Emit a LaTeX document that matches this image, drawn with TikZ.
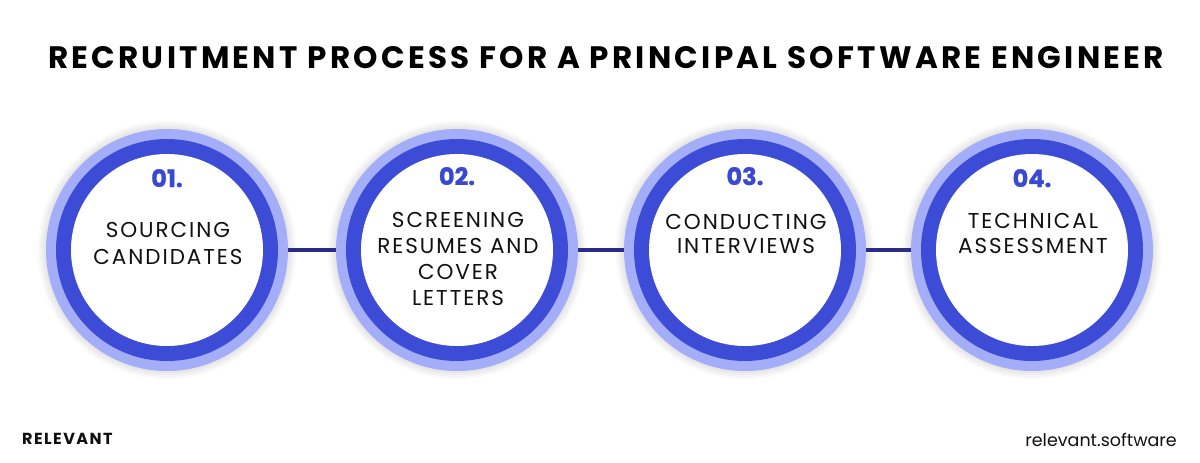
\documentclass[tikz,border=0pt]{standalone}
\usepackage{fontspec}
\setmainfont{Poppins}
\definecolor{ringlight}{HTML}{A3ADF8}
\definecolor{ringdark}{HTML}{3D4CD7}
\definecolor{numblue}{HTML}{3A49D2}
\definecolor{linkcol}{HTML}{2D2B8A}
\definecolor{inkblack}{HTML}{111111}
\newcommand{\steplead}[1]{\fontsize{21.5}{#1}\selectfont\addfontfeature{LetterSpace=9}}
\begin{document}
\begin{tikzpicture}[x=1pt,y=-1pt,
  outerring/.style={circle,fill=ringlight,minimum size=242pt,inner sep=0pt},
  darkring/.style={fill=ringdark},
  whitedisc/.style={fill=white},
  shadowdisc/.style={fill=black,opacity=0.022},
  numlabel/.style={anchor=base,text=numblue,font=\fontsize{24}{24}\selectfont\bfseries\addfontfeature{FakeBold=1.2}},
  steplabel/.style={anchor=base,text=inkblack,align=center,inner sep=0pt},
  link/.style={draw=linkcol,line width=4.5pt},
  titlelabel/.style={anchor=base,text=black,font=\fontsize{31}{31}\selectfont\bfseries\addfontfeature{LetterSpace=10.5}},
]
\useasboundingbox (0,0) rectangle (1200,463);
\fill[white] (0,0) rectangle (1200,463);

% title
\node[titlelabel] (title) at (606,68) {RECRUITMENT PROCESS FOR A PRINCIPAL SOFTWARE ENGINEER};

% circles
\foreach \i/\cx in {1/167,2/457,3/745,4/1032}{
  \foreach \r in {123,125,127,129}{\fill[shadowdisc] (\cx,250) circle (\r);}
  \node[outerring] (s\i) at (\cx,250) {};
  \fill[darkring] (s\i.center) circle (111);
  \fill[whitedisc] (s\i.center) circle (96);
}

% connectors
\draw[link] (s1.east) -- (s2.west);
\draw[link] (s2.east) -- (s3.west);
\draw[link] (s3.east) -- (s4.west);

% numbers
\node[numlabel] (n1) at (167,187) {01.};
\node[numlabel] (n2) at (457,185) {02.};
\node[numlabel] (n3) at (745,185) {03.};
\node[numlabel] (n4) at (1032,187) {04.};

% step texts (base anchor = baseline of last line)
\node[steplabel,font=\steplead{27}] (t1) at (168,264) {SOURCING\\CANDIDATES};
\node[steplabel,font=\steplead{26}] (t2) at (458,305) {SCREENING\\RESUMES AND\\COVER\\LETTERS};
\node[steplabel,font=\steplead{24}] (t3) at (746,253) {CONDUCTING\\INTERVIEWS};
\node[steplabel,font=\steplead{25}] (t4) at (1033,253) {TECHNICAL\\ASSESSMENT};

% footer
\node[anchor=base west,inner sep=0pt,text=inkblack,font=\fontsize{16}{16}\selectfont\bfseries\addfontfeature{LetterSpace=9}] (brand) at (22,444) {RELEVANT};
\node[anchor=base east,inner sep=0pt,text=inkblack,font=\fontsize{17.5}{17.5}\selectfont] (site) at (1177,446) {relevant.software};
\end{tikzpicture}
\end{document}
